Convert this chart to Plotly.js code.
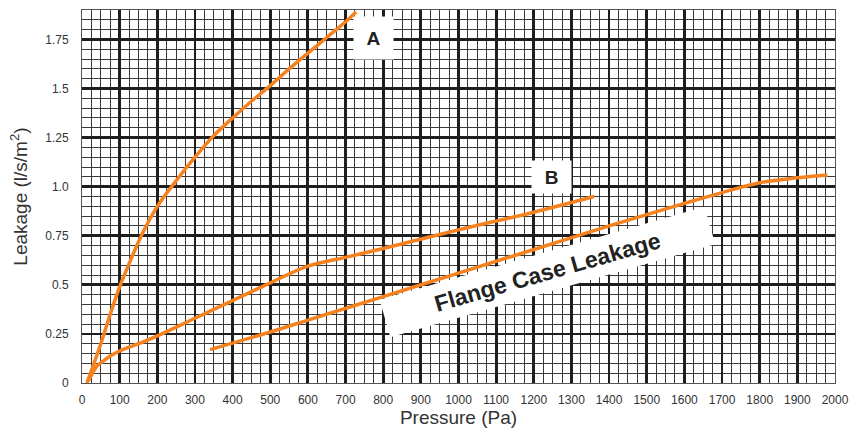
<!DOCTYPE html>
<html>
<head>
<meta charset="utf-8">
<script src="https://cdn.plot.ly/plotly-3.0.1.min.js"></script>
<style>html,body{margin:0;padding:0;background:#fff;}#chart{width:865px;height:432px;}</style>
</head>
<body>
<div id="chart"></div>
<script>
// Curve A
const aPressure = [13, 30, 50, 75, 100, 130, 160, 200, 250, 300, 350, 400, 450, 500, 550, 600, 650, 700, 728];
const aLeakage  = [0, 0.09, 0.2, 0.35, 0.49, 0.63, 0.76, 0.9, 1.03, 1.15, 1.26, 1.35, 1.435, 1.515, 1.6, 1.68, 1.76, 1.84, 1.89];
// Curve B
const bPressure = [17, 25, 39, 55, 74, 100, 150, 200, 300, 400, 500, 600, 700, 800, 1000, 1200, 1360];
const bLeakage  = [0.01, 0.04, 0.085, 0.11, 0.136, 0.163, 0.2, 0.24, 0.33, 0.42, 0.51, 0.595, 0.64, 0.685, 0.78, 0.87, 0.95];
// Flange case leakage
const fPressure = [340, 500, 600, 800, 1000, 1200, 1400, 1600, 1700, 1800, 1900, 1980];
const fLeakage  = [0.17, 0.26, 0.32, 0.44, 0.56, 0.68, 0.8, 0.915, 0.97, 1.02, 1.045, 1.06];

const yTickVals = [0, 0.25, 0.5, 0.75, 1.0, 1.25, 1.5, 1.75];
const yTickText = ["0", "0.25", "0.5", "0.75", "1.0", "1.25", "1.5", "1.75"];

const orange = "#F5821F";
const fontFam = "Liberation Sans, Arial, sans-serif";

function curve(x, y) {
  return {x: x, y: y, type: "scatter", mode: "lines",
    line: {color: orange, width: 3.5, shape: "spline", smoothing: 1, simplify: false},
    hoverinfo: "skip", showlegend: false};
}

const data = [curve(aPressure, aLeakage), curve(bPressure, bLeakage), curve(fPressure, fLeakage)];

const layout = {
  width: 865, height: 432,
  margin: {l: 82, r: 30, t: 9.5, b: 48.5},
  paper_bgcolor: "#fff", plot_bgcolor: "#fff",
  font: {family: fontFam, color: "#333"},
  showlegend: false,
  xaxis: {
    range: [0, 2000], tickmode: "linear", tick0: 0, dtick: 100,
    showgrid: true, gridcolor: "#1e1e1e", gridwidth: 2.8,
    minor: {tickmode: "linear", tick0: 0, dtick: 25, showgrid: true, gridcolor: "#3a3a3a", gridwidth: 1},
    zeroline: false, showline: true, linecolor: "#555", linewidth: 1, mirror: true,
    ticks: "", ticklabelstandoff: 6,
    tickfont: {size: 12, color: "#333", family: fontFam},
    title: {text: "Pressure (Pa)", font: {size: 19, color: "#333", family: fontFam}, standoff: 2}
  },
  yaxis: {
    range: [0, 1.9], tickmode: "array", tickvals: yTickVals, ticktext: yTickText,
    showgrid: true, gridcolor: "#1e1e1e", gridwidth: 2.8,
    minor: {tickmode: "linear", tick0: 0, dtick: 0.05, showgrid: true, gridcolor: "#3a3a3a", gridwidth: 1},
    zeroline: false, showline: true, linecolor: "#555", linewidth: 1, mirror: true,
    ticks: "", ticklabelstandoff: 10,
    tickfont: {size: 12, color: "#333", family: fontFam},
    title: {text: "Leakage (l/s/m<sup>2</sup>)", font: {size: 19, color: "#333", family: fontFam}, standoff: 12}
  },
  annotations: [
    {x: 773, y: 1.755, xref: "x", yref: "y", text: "<b>A</b>", showarrow: false,
     font: {size: 19, color: "#222", family: fontFam}, bgcolor: "#fff", width: 37, height: 40},
    {x: 1247, y: 1.049, xref: "x", yref: "y", text: "<b>B</b>", showarrow: false,
     font: {size: 19, color: "#222", family: fontFam}, bgcolor: "#fff", width: 37, height: 30},
    {x: 1236, y: 0.564, xref: "x", yref: "y", text: "<b>Flange Case Leakage</b>", showarrow: false,
     textangle: -16, font: {size: 23, color: "#222", family: fontFam}, bgcolor: "#fff", width: 335, height: 36}
  ]
};

Plotly.newPlot("chart", data, layout, {displayModeBar: false, staticPlot: true});
</script>
</body>
</html>
